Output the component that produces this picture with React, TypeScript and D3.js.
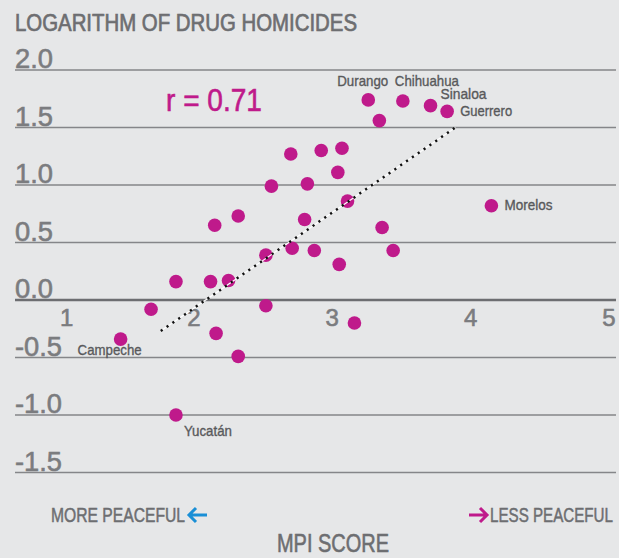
import React from "react";
import * as d3 from "d3";

// MPI score (x) vs log of drug homicides (y), one entry per state
const stateLabels = [
  "Campeche", "", "", "", "", "", "", "Yucatán",
  "", "", "", "", "", "", "", "",
  "", "", "", "", "", "", "", "",
  "", "", "Durango", "Chihuahua", "Sinaloa", "Guerrero", "Morelos", "",
];
const mpiScores = [
  1.47, 1.69, 1.87, 2.12, 2.25, 2.16, 2.32, 1.87,
  2.15, 2.32, 2.56, 2.70, 2.52, 2.71, 2.52, 2.80,
  2.82, 2.92, 3.07, 3.04, 3.11, 2.87, 3.05, 3.36,
  3.44, 3.34, 3.26, 3.51, 3.71, 3.83, 4.15, 3.16,
];
const logDrugHomicides = [
  -0.34, -0.08, 0.16, 0.16, 0.17, -0.29, -0.49, -1.0,
  0.65, 0.73, 0.99, 1.27, 0.39, 0.45, -0.05, 0.70,
  1.01, 1.30, 1.32, 1.11, 0.86, 0.43, 0.31, 0.63,
  0.43, 1.56, 1.74, 1.73, 1.69, 1.64, 0.82, -0.20,
];
const yTicks = [2.0, 1.5, 1.0, 0.5, 0.0, -0.5, -1.0, -1.5];
const xTicks = [1, 2, 3, 4, 5];
const trendX = [1.76, 3.89];
const trendY = [-0.27, 1.5];
const correlation = "r = 0.71";

const WIDTH = 619;
const HEIGHT = 558;
// the original uses a condensed gothic; squeeze a regular sans with textLength
const FONT = "'Liberation Sans', Arial, sans-serif";
const MAGENTA = "#bf1a8b";
const BLUE = "#1a8fd6";
const GREY = "#6d6e71";

// where each state name sits relative to its dot, and how wide it runs
const labelPos: Record<string, { dx: number; dy: number; w: number }> = {
  Campeche: { dx: -43, dy: 16, w: 64 },
  "Yucatán": { dx: 8, dy: 21, w: 48 },
  Durango: { dx: -31, dy: -14, w: 51 },
  Chihuahua: { dx: -8, dy: -15, w: 64 },
  Sinaloa: { dx: 10, dy: -7, w: 46 },
  Guerrero: { dx: 13, dy: 5, w: 52 },
  Morelos: { dx: 13, dy: 4, w: 48 },
};

// thin stroke in the fill colour to get closer to the heavier original face
const FitText = ({ w, children, weight = 0.5, ...rest }: any) => (
  <text
    textLength={w}
    lengthAdjust="spacingAndGlyphs"
    stroke={rest.fill}
    strokeWidth={weight}
    {...rest}
  >
    {children}
  </text>
);

const App = () => {
  const x = d3.scaleLinear().domain([1, 5]).range([55.6, 609]);
  const y = d3.scaleLinear().domain([-1.5, 2]).range([472.5, 70]);
  const points = mpiScores.map((m, i) => ({
    name: stateLabels[i],
    x: x(m),
    y: y(logDrugHomicides[i]),
  }));
  const trend = d3
    .line<number>()
    .x(d => x(d))
    .y((_, i) => y(trendY[i]))(trendX);

  return (
    <svg
      width={WIDTH}
      height={HEIGHT}
      style={{ position: "absolute", left: 0, top: 0, fontFamily: FONT }}
    >
      <rect width={WIDTH} height={HEIGHT} fill="#e6e7e8" />
      <FitText x={15} y={31} w={342} fontSize={24} fill={GREY} weight={0.7}>
        LOGARITHM OF DRUG HOMICIDES
      </FitText>

      <g className="grid">
        {yTicks.map(t => (
          <g key={t}>
            <line
              x1={15}
              x2={616}
              y1={y(t)}
              y2={y(t)}
              stroke={t === 0 ? GREY : "#858689"}
              strokeWidth={t === 0 ? 2.6 : 1.4}
            />
            <FitText
              x={15}
              y={y(t) - 2}
              w={t < 0 ? 47 : 38}
              fontSize={28}
              fill="#7b7c7f"
              weight={0.6}
            >
              {t.toFixed(1)}
            </FitText>
          </g>
        ))}
      </g>

      <g className="x-ticks">
        {xTicks.map((t, i) => (
          <text
            key={t}
            x={x(t)}
            dx={i === 0 ? 11 : 0}
            y={y(0) + 26}
            fontSize={24}
            textAnchor="middle"
            fill="#7b7c7f"
            stroke="#7b7c7f"
            strokeWidth={0.6}
          >
            {t}
          </text>
        ))}
      </g>

      <FitText x={166} y={111} w={96} fontSize={31} fill={MAGENTA} weight={0.6}>
        {correlation}
      </FitText>

      <g className="dots">
        {points.map((p, i) => (
          <circle key={i} cx={p.x} cy={p.y} r={6.8} fill={MAGENTA} />
        ))}
      </g>

      <path d={trend ?? ""} stroke="#ffffff" strokeWidth={1.2} fill="none" />
      <path
        d={trend ?? ""}
        stroke="#111"
        strokeWidth={2.4}
        strokeDasharray="2.2 4.9"
        fill="none"
      />

      <g className="labels">
        {points
          .filter(p => p.name)
          .map(p => {
            const lp = labelPos[p.name];
            return (
              <FitText
                key={p.name}
                x={p.x + lp.dx}
                y={p.y + lp.dy}
                w={lp.w}
                fontSize={15}
                fill="#58595b"
                weight={0.35}
              >
                {p.name}
              </FitText>
            );
          })}
      </g>

      <g className="direction">
        <FitText x={51} y={522} w={134} fontSize={20} fill={GREY}>
          MORE PEACEFUL
        </FitText>
        <path
          d="M207,515 L189,515 M196,508 L189,515 L196,522"
          stroke={BLUE}
          strokeWidth={3}
          fill="none"
        />
        <path
          d="M469,515 L487,515 M480,508 L487,515 L480,522"
          stroke={MAGENTA}
          strokeWidth={3}
          fill="none"
        />
        <FitText x={490} y={522} w={123} fontSize={20} fill={GREY}>
          LESS PEACEFUL
        </FitText>
        <FitText x={277} y={552} w={112} fontSize={25} fill={GREY} weight={0.6}>
          MPI SCORE
        </FitText>
      </g>
    </svg>
  );
};

export default App;
